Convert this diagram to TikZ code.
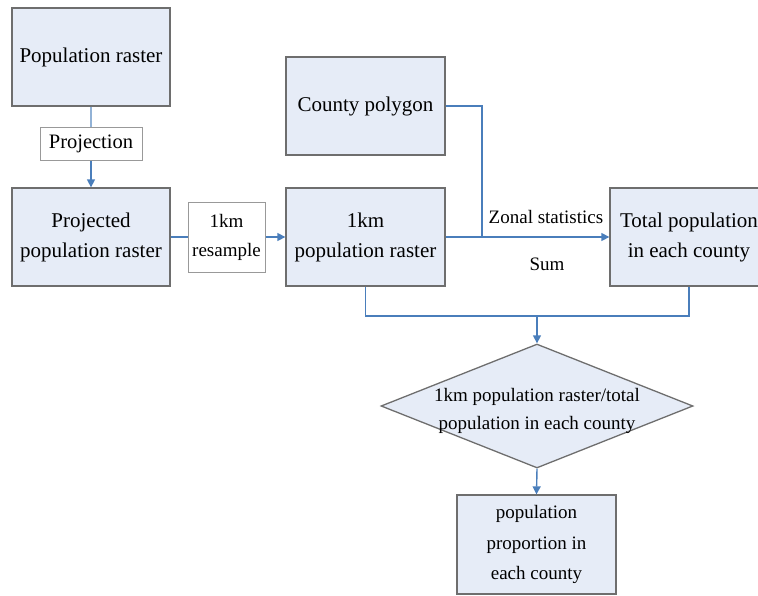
\documentclass[tikz,border=0pt]{standalone}
\usepackage{fontspec}
\setmainfont{Liberation Serif}
\usetikzlibrary{arrows.meta,shapes.geometric}
\definecolor{boxfill}{HTML}{E6ECF7}
\definecolor{boxline}{HTML}{6E6E6E}
\definecolor{conn}{HTML}{4A7EBB}
\tikzset{
  mainbox/.style={draw=boxline,line width=1.3pt,fill=boxfill,minimum width=158pt,minimum height=98pt,inner sep=0pt,align=center,font=\rmfamily\fontsize{21}{30}\selectfont},
  opbox/.style={draw=boxline!70,line width=1pt,fill=white,inner sep=0pt,align=center,font=\rmfamily\fontsize{19}{29}\selectfont},
  lbl/.style={inner sep=0pt,font=\rmfamily\fontsize{19}{22}\selectfont},
  conline/.style={draw=conn,line width=1.4pt},
  conarrow/.style={conline,-{Triangle[width=8pt,length=8pt]}}
}
\begin{document}
\begin{tikzpicture}[x=1pt,y=-1pt]
\useasboundingbox (0,0) rectangle (758,595);
\clip (0,0) rectangle (758,595);
\node[mainbox] (pop) at (91,57) {Population raster};
\node[opbox,minimum width=102pt,minimum height=33pt,font=\rmfamily\fontsize{20.5}{24}\selectfont] (proj) at (91,143.5) {Projection};
\node[mainbox] (projd) at (91,237) {Projected\\population raster};
\node[opbox,minimum width=77pt,minimum height=70pt] (res) at (226.5,237) {1km\\resample};
\node[mainbox,minimum width=159pt] (r1) at (365.5,237) {1km\\population raster};
\node[mainbox,minimum width=159pt] (county) at (365.5,106) {County polygon};
\node[mainbox] (total) at (689,237) {Total population\\in each county};
\node[draw=boxline,line width=1.3pt,fill=boxfill,shape=diamond,inner sep=0pt,minimum width=312pt,minimum height=124pt] (dia) at (537,406) {};
\node[align=center,inner sep=0pt,font=\rmfamily\fontsize{19}{28}\selectfont] (diatext) at (537,411) {1km population raster/total\\population in each county};
\node[mainbox,minimum width=159pt,minimum height=99pt,font=\rmfamily\fontsize{19}{30.5}\selectfont] (prop) at (536.5,544.5) {population\\proportion in\\each county};
\node[lbl] (zs) at (546,217) {Zonal statistics};
\node[lbl] (sum) at (547,264) {Sum};
\coordinate (zj) at (482,237);
\coordinate (bm) at (537,316);
\draw[conline,draw=conn!60] (pop.south) -- (proj.north);
\draw[conarrow] (proj.south) -- (projd.north);
\draw[conline] (projd.east) -- (res.west);
\draw[conarrow] (res.east) -- (r1.west);
\draw[conline] (county.east) -| (zj);
\draw[conarrow] (r1.east) -- (total.west);
\draw[conline] (r1.south) |- (bm) -| (total.south);
\draw[conarrow] (bm) -- (dia.north);
\draw[conarrow] (dia.south) -- (prop.north);
\end{tikzpicture}
\end{document}
